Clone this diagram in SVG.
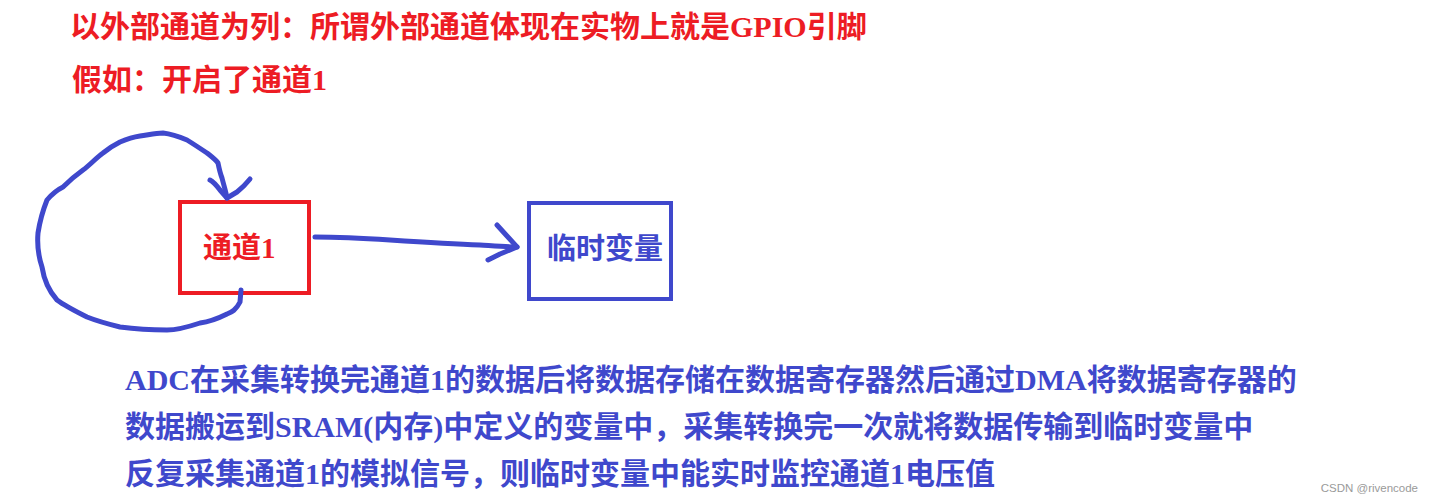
<svg xmlns="http://www.w3.org/2000/svg" width="1434" height="502" viewBox="0 0 1434 502">
<style>
.t{font-family:"Liberation Serif","Noto Sans CJK SC",serif;font-weight:bold;font-size:30px}
.red{fill:#ed1c24}
.blue{fill:#3f48cc}
.pen{fill:none;stroke:#3f48cc;stroke-width:5;stroke-linecap:round;stroke-linejoin:round}
.wm{font-family:"Liberation Sans",Arial,sans-serif;font-size:11.5px;fill:#9a9a9a}
</style>
<rect width="1434" height="502" fill="#ffffff"/>
<g id="title">
<text class="t red" x="70" y="37">以外部通道为列：所谓外部通道体现在实物上就是GPIO引脚</text>
<text class="t red" x="72" y="90">假如：开启了通道1</text>
</g>
<g id="node-channel1">
<rect x="180" y="202" width="129" height="91" fill="none" stroke="#ed1c24" stroke-width="4"/>
<text class="t red" x="203" y="258" style="font-size:29px">通道1</text>
</g>
<g id="node-tempvar">
<rect x="529" y="203" width="142" height="96" fill="none" stroke="#3f48cc" stroke-width="4"/>
<text class="t blue" x="547" y="259" style="font-size:29px">临时变量</text>
</g>
<g id="connectors">
<path class="pen" d="M241,290 L240,302 C236,310 232,312 227,314 C215,320 208,322 200,323 C188,327 178,330 167,330 C150,330 135,329 120,327 C108,324 97,321 87,317 C75,311 65,306 57,300 C48,290 44,280 42,267 C38,255 37,245 38,233 C40,220 43,210 47,200 C52,194 57,190 63,187 C70,180 76,175 83,170 C90,165 96,158 103,153 C109,148 114,145 120,142 C127,139 133,137 140,136 C148,135 155,133 163,133 C172,134 180,137 187,140 C195,145 201,149 207,153 C212,157 216,160 218,163 C219,168 220,173 222,178 C224,186 226,192 227,198"/>
<path class="pen" d="M210,180 C214,182 217,186 220,190 L227,198 L237,192 C242,188 246,184 250,179"/>
<path class="pen" d="M315,237 C340,237 360,238 390,240 C420,242 450,244 480,245 C495,246 507,247 517,247"/>
<path class="pen" d="M497,225 L507,236 L517,247 L500,254 L488,260"/>
</g>
<g id="description">
<text class="t blue" x="125" y="390">ADC在采集转换完通道1的数据后将数据存储在数据寄存器然后通过DMA将数据寄存器的</text>
<text class="t blue" x="125" y="437">数据搬运到SRAM(内存)中定义的变量中，采集转换完一次就将数据传输到临时变量中</text>
<text class="t blue" x="125" y="484">反复采集通道1的模拟信号，则临时变量中能实时监控通道1电压值</text>
</g>
<text class="wm" x="1418" y="492" text-anchor="end">CSDN @rivencode</text>
</svg>
